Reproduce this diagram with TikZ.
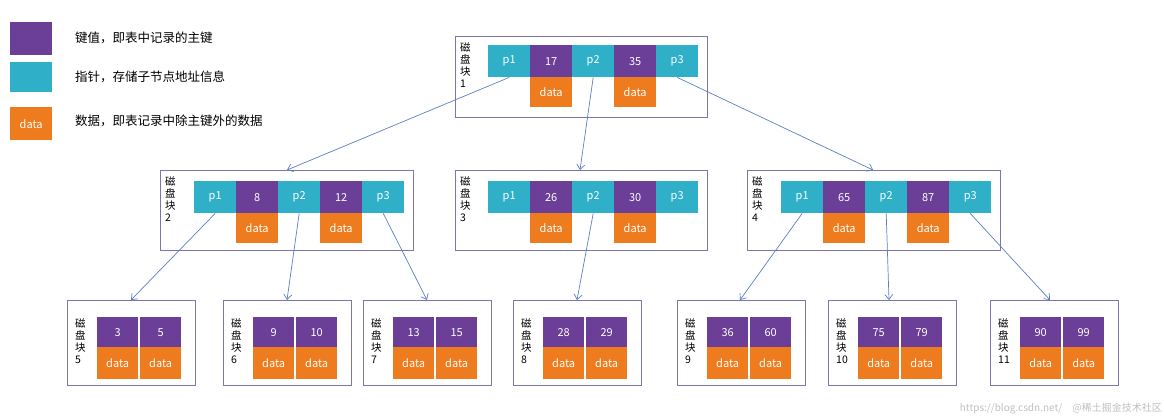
\documentclass[tikz,border=0pt]{standalone}
\usepackage{fontspec}
\setmainfont{Noto Sans CJK SC}
\usetikzlibrary{arrows.meta}
\definecolor{teal1}{HTML}{2FAFC8}
\definecolor{purp}{HTML}{6B3E98}
\definecolor{oran}{HTML}{EE7B1E}
\definecolor{frm}{HTML}{7F75AE}
\definecolor{arr}{HTML}{5B7FC0}
\begin{document}
\begin{tikzpicture}[x=1pt,y=-1pt,
  cell/.style={draw=none,minimum width=42pt,minimum height=32pt,inner sep=0,text=white,font=\fontsize{11}{11}\selectfont,anchor=north west},
  ptr/.style={cell,fill=teal1},
  key/.style={cell,fill=purp},
  dat/.style={cell,fill=oran,minimum height=30pt},
  frame/.style={draw=frm,line width=0.8pt},
  lbl/.style={font=\fontsize{10.5}{12}\selectfont,align=left,anchor=north west,inner sep=0},
  leg/.style={font=\fontsize{12.5}{14}\selectfont,anchor=west,inner sep=0},
  link/.style={draw=arr,line width=0.7pt,-{Straight Barb[length=5pt,width=8pt]}}]
\useasboundingbox (0,0) rectangle (1164,420);
% legend
\node[key,minimum width=42pt,minimum height=33pt] (lk) at (10,22) {};
\node[ptr,minimum width=42pt,minimum height=30pt] (lp) at (10,62) {};
\node[dat,minimum width=42pt,minimum height=33pt] (ld) at (10,107) {data};
\node[leg] (t1) at (75,38) {键值，即表中记录的主键};
\node[leg] (t2) at (75,77) {指针，存储子节点地址信息};
\node[leg] (t3) at (75,121) {数据，即表记录中除主键外的数据};
% block 1
\draw[frame] (455,36) rectangle (707,117);
\node[lbl] (b1l) at (460,42) {磁\\盘\\块\\1};
\node[ptr] (b1p1) at (488,45) {p1};
\node[key] (b1k1) at (530,45) {17};
\node[ptr] (b1p2) at (572,45) {p2};
\node[key] (b1k2) at (614,45) {35};
\node[ptr] (b1p3) at (656,45) {p3};
\node[dat] (b1d1) at (530,77) {data};
\node[dat] (b1d2) at (614,77) {data};
% block 2
\draw[frame] (160,170) rectangle (413,250);
\node[lbl] (b2l) at (165,176) {磁\\盘\\块\\2};
\node[ptr] (b2p1) at (194,181) {p1};
\node[key] (b2k1) at (236,181) {8};
\node[ptr] (b2p2) at (278,181) {p2};
\node[key] (b2k2) at (320,181) {12};
\node[ptr] (b2p3) at (362,181) {p3};
\node[dat] (b2d1) at (236,213) {data};
\node[dat] (b2d2) at (320,213) {data};
% block 3
\draw[frame] (455,170) rectangle (707,250);
\node[lbl] (b3l) at (460,176) {磁\\盘\\块\\3};
\node[ptr] (b3p1) at (488,181) {p1};
\node[key] (b3k1) at (530,181) {26};
\node[ptr] (b3p2) at (572,181) {p2};
\node[key] (b3k2) at (614,181) {30};
\node[ptr] (b3p3) at (656,181) {p3};
\node[dat] (b3d1) at (530,213) {data};
\node[dat] (b3d2) at (614,213) {data};
% block 4
\draw[frame] (747,170) rectangle (1000,250);
\node[lbl] (b4l) at (752,176) {磁\\盘\\块\\4};
\node[ptr] (b4p1) at (781,181) {p1};
\node[key] (b4k1) at (823,181) {65};
\node[ptr] (b4p2) at (865,181) {p2};
\node[key] (b4k2) at (907,181) {87};
\node[ptr] (b4p3) at (949,181) {p3};
\node[dat] (b4d1) at (823,213) {data};
\node[dat] (b4d2) at (907,213) {data};
% leaves
\newcommand{\leaf}[4]{%
  \draw[frame] (#2,300) rectangle ++(128,85);
  \node[lbl] (l#1) at (#2+8,318) {磁\\盘\\块\\#1};
  \node[key,minimum width=41pt,minimum height=30pt] (l#1a) at (#2+30,317) {#3};
  \node[key,minimum width=41pt,minimum height=30pt] (l#1b) at (#2+73,317) {#4};
  \node[dat,minimum width=41pt,minimum height=32pt] (l#1c) at (#2+30,347) {data};
  \node[dat,minimum width=41pt,minimum height=32pt] (l#1d) at (#2+73,347) {data};
}
\leaf{5}{67}{3}{5}
\leaf{6}{223}{9}{10}
\leaf{7}{363}{13}{15}
\leaf{8}{513}{28}{29}
\leaf{9}{677}{36}{60}
\leaf{10}{828}{75}{79}
\leaf{11}{990}{90}{99}
% links
\coordinate (b2t) at (287,170);
\coordinate (b3t) at (580,170);
\coordinate (b4t) at (873,170);
\draw[link] (b1p1.south) -- (b2t);
\draw[link] (b1p2.south) -- (b3t);
\draw[link] (b1p3.south) -- (b4t);
\coordinate (t5) at (131,300);
\coordinate (t6) at (287,300);
\coordinate (t7) at (427,300);
\coordinate (t8) at (577,300);
\coordinate (t9) at (740,300);
\coordinate (t10) at (889,300);
\coordinate (t11) at (1050,300);
\draw[link] (b2p1.south) -- (t5);
\draw[link] (b2p2.south) -- (t6);
\draw[link] (b2p3.south) -- (t7);
\draw[link] (b3p2.south) -- (t8);
\draw[link] (b4p1.south) -- (t9);
\draw[link] (b4p2.south) -- (t10);
\draw[link] (b4p3.south) -- (t11);
\node[text=black!25,font=\fontsize{10}{10}\selectfont,anchor=south east,inner sep=2pt] (wm) at (1164,416) {https://blog.csdn.net/\quad @稀土掘金技术社区};
\end{tikzpicture}
\end{document}
